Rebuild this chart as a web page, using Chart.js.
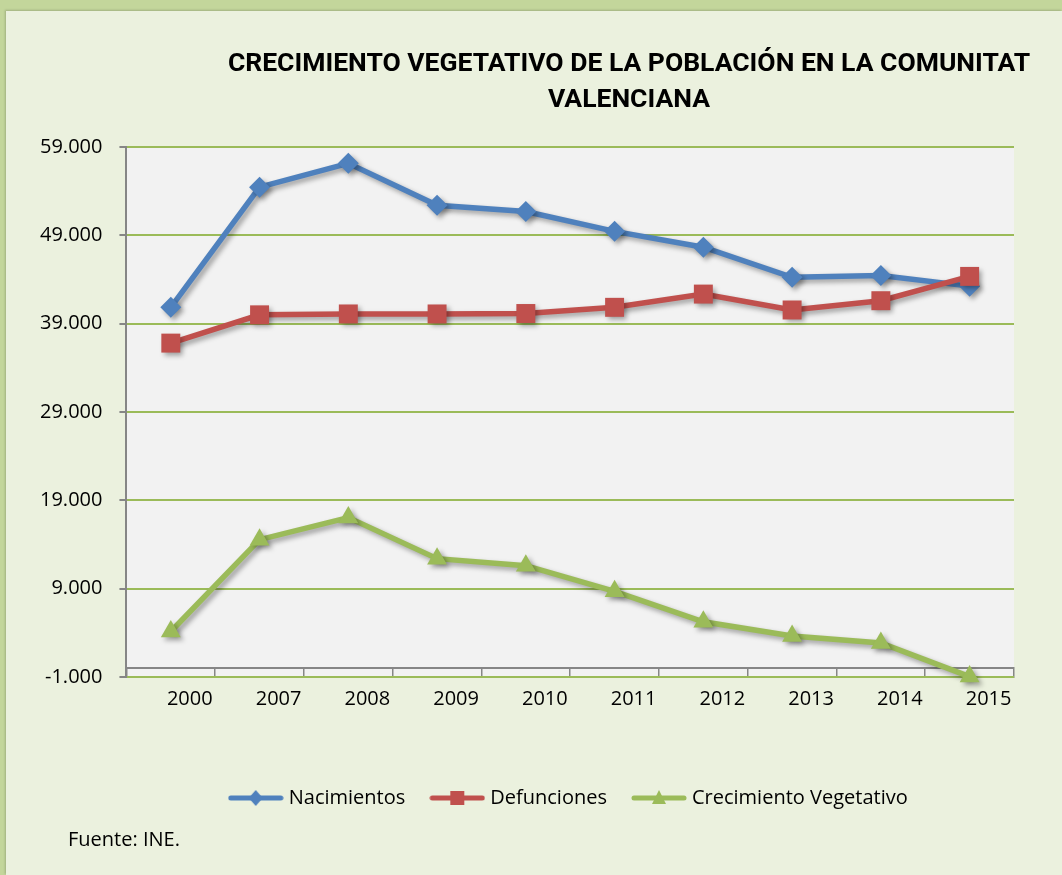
<!DOCTYPE html>
<html>
<head>
<meta charset="utf-8">
<script src="https://cdn.jsdelivr.net/npm/chart.js@4.4.0/dist/chart.umd.min.js"></script>
<style>
html, body { margin: 0; padding: 0; }
body { width: 1062px; height: 875px; background: #c3d69b; position: relative; overflow: hidden; font-family: "Open Sans", sans-serif; }
#panel { position: absolute; left: 6px; top: 11px; right: 0; bottom: 0; background: #ebf1de; box-shadow: -1px -1px 2px rgba(0,0,0,0.18); }
#wrap { position: absolute; left: 0; top: 0; width: 1062px; height: 875px; }
#title { position: absolute; left: 129px; width: 1000px; top: 44px; text-align: center; font: 700 26.5px Roboto, sans-serif; line-height: 36px; color: #000; }
#source { position: absolute; left: 68px; top: 825px; font-size: 20px; color: #000; }
</style>
</head>
<body>
<div id="panel"></div>
<div id="wrap"><canvas id="chart" width="1062" height="875"></canvas></div>
<div id="title">CRECIMIENTO VEGETATIVO DE LA POBLACIÓN EN LA COMUNITAT<br>VALENCIANA</div>
<div id="source">Fuente: INE.</div>
<script>
const years = ["2000", "2007", "2008", "2009", "2010", "2011", "2012", "2013", "2014", "2015"];
const nacimientos = [40850, 54450, 57150, 52400, 51700, 49450, 47650, 44250, 44450, 43250];
const defunciones = [36800, 40000, 40100, 40100, 40150, 40850, 42350, 40550, 41600, 44350];
const crecimiento = [4150, 14550, 17050, 12400, 11600, 8700, 5250, 3650, 2850, -950];

const blue = "#4f81bd", red = "#c0504d", green = "#9bbb59";
const axisGray = "#868686";

function fmt(v) {
    let s = Math.abs(v).toString().replace(/\B(?=(\d{3})+(?!\d))/g, ".");
    return (v < 0 ? "-" : "") + s;
}

// legend swatch: line with marker in the middle
function makeIcon(color, shape) {
    let c = document.createElement("canvas");
    c.width = 56; c.height = 20;
    let g = c.getContext("2d");
    g.strokeStyle = color; g.lineWidth = 5; g.lineCap = "round";
    g.beginPath(); g.moveTo(3, 10); g.lineTo(53, 10); g.stroke();
    g.fillStyle = color;
    g.beginPath();
    if (shape === "diamond") { g.moveTo(28, 2); g.lineTo(35, 10); g.lineTo(28, 18); g.lineTo(21, 10); }
    else if (shape === "square") { g.rect(21, 3, 14, 14); }
    else { g.moveTo(28, 2); g.lineTo(35, 16); g.lineTo(21, 16); }
    g.closePath(); g.fill();
    return c;
}
const icons = [makeIcon(blue, "diamond"), makeIcon(red, "square"), makeIcon(green, "triangle")];

const plotBg = {
    id: "plotBg",
    beforeDraw(chart) {
        let {ctx, chartArea: a} = chart;
        ctx.save();
        ctx.fillStyle = "#f2f2f2";
        ctx.fillRect(a.left, a.top, a.right - a.left, a.bottom - a.top);
        ctx.restore();
    }
};
const lineShadow = {
    id: "lineShadow",
    beforeDatasetsDraw(chart) {
        let ctx = chart.ctx;
        ctx.save();
        ctx.shadowColor = "rgba(0,0,0,0.35)";
        ctx.shadowBlur = 5;
        ctx.shadowOffsetX = 3;
        ctx.shadowOffsetY = 3;
    },
    afterDatasetsDraw(chart) { chart.ctx.restore(); }
};

const tickFont = { family: "'Open Sans', sans-serif", size: 20 };

new Chart(document.getElementById("chart"), {
    type: "line",
    data: {
        labels: years,
        datasets: [
            { label: "Nacimientos", data: nacimientos, borderColor: blue, backgroundColor: blue, borderWidth: 5.5, pointStyle: "rectRot", pointRadius: 10.5, pointBorderWidth: 0, order: 3, clip: false },
            { label: "Defunciones", data: defunciones, borderColor: red, backgroundColor: red, borderWidth: 5.5, pointStyle: "rect", pointRadius: 13.4, pointBorderWidth: 0, order: 2, clip: false },
            { label: "Crecimiento Vegetativo", data: crecimiento, borderColor: green, backgroundColor: green, borderWidth: 5.5, pointStyle: "triangle", pointRadius: 11.5, pointBorderWidth: 0, order: 1, clip: false }
        ]
    },
    options: {
        responsive: false,
        animation: false,
        layout: { padding: { left: 23, right: 48, top: 147, bottom: 57 } },
        elements: { line: { tension: 0 } },
        scales: {
            x: {
                offset: true,
                grid: { display: false, drawTicks: false },
                border: { display: false },
                ticks: { labelOffset: 19, padding: 10, maxRotation: 0, color: "#000", font: tickFont },
                afterFit: s => { s.height = 82; }
            },
            x2: {
                type: "category",
                position: { y: 0 },
                offset: true,
                grid: { offset: true, drawOnChartArea: false, tickLength: 9, color: axisGray, lineWidth: 1.5 },
                border: { color: axisGray, width: 2 },
                ticks: { display: false }
            },
            y: {
                min: -1000,
                max: 59000,
                ticks: { stepSize: 10000, padding: 17, color: "#000", font: tickFont, callback: v => fmt(v) },
                grid: { color: green, lineWidth: 2, tickColor: axisGray, tickLength: 7, tickWidth: 2 },
                border: { color: axisGray, width: 2 }
            }
        },
        plugins: {
            tooltip: { enabled: false },
            legend: {
                position: "bottom",
                fullSize: false,
                labels: {
                    usePointStyle: true,
                    pointStyleWidth: 46,
                    padding: 29,
                    color: "#000",
                    font: tickFont,
                    generateLabels: chart => chart.data.datasets.map((ds, i) => ({
                        text: ds.label, pointStyle: icons[i], datasetIndex: i, hidden: false,
                        fillStyle: ds.borderColor, strokeStyle: ds.borderColor, lineWidth: 0, fontColor: "#000"
                    }))
                }
            }
        }
    },
    plugins: [plotBg, lineShadow]
});
</script>
</body>
</html>
